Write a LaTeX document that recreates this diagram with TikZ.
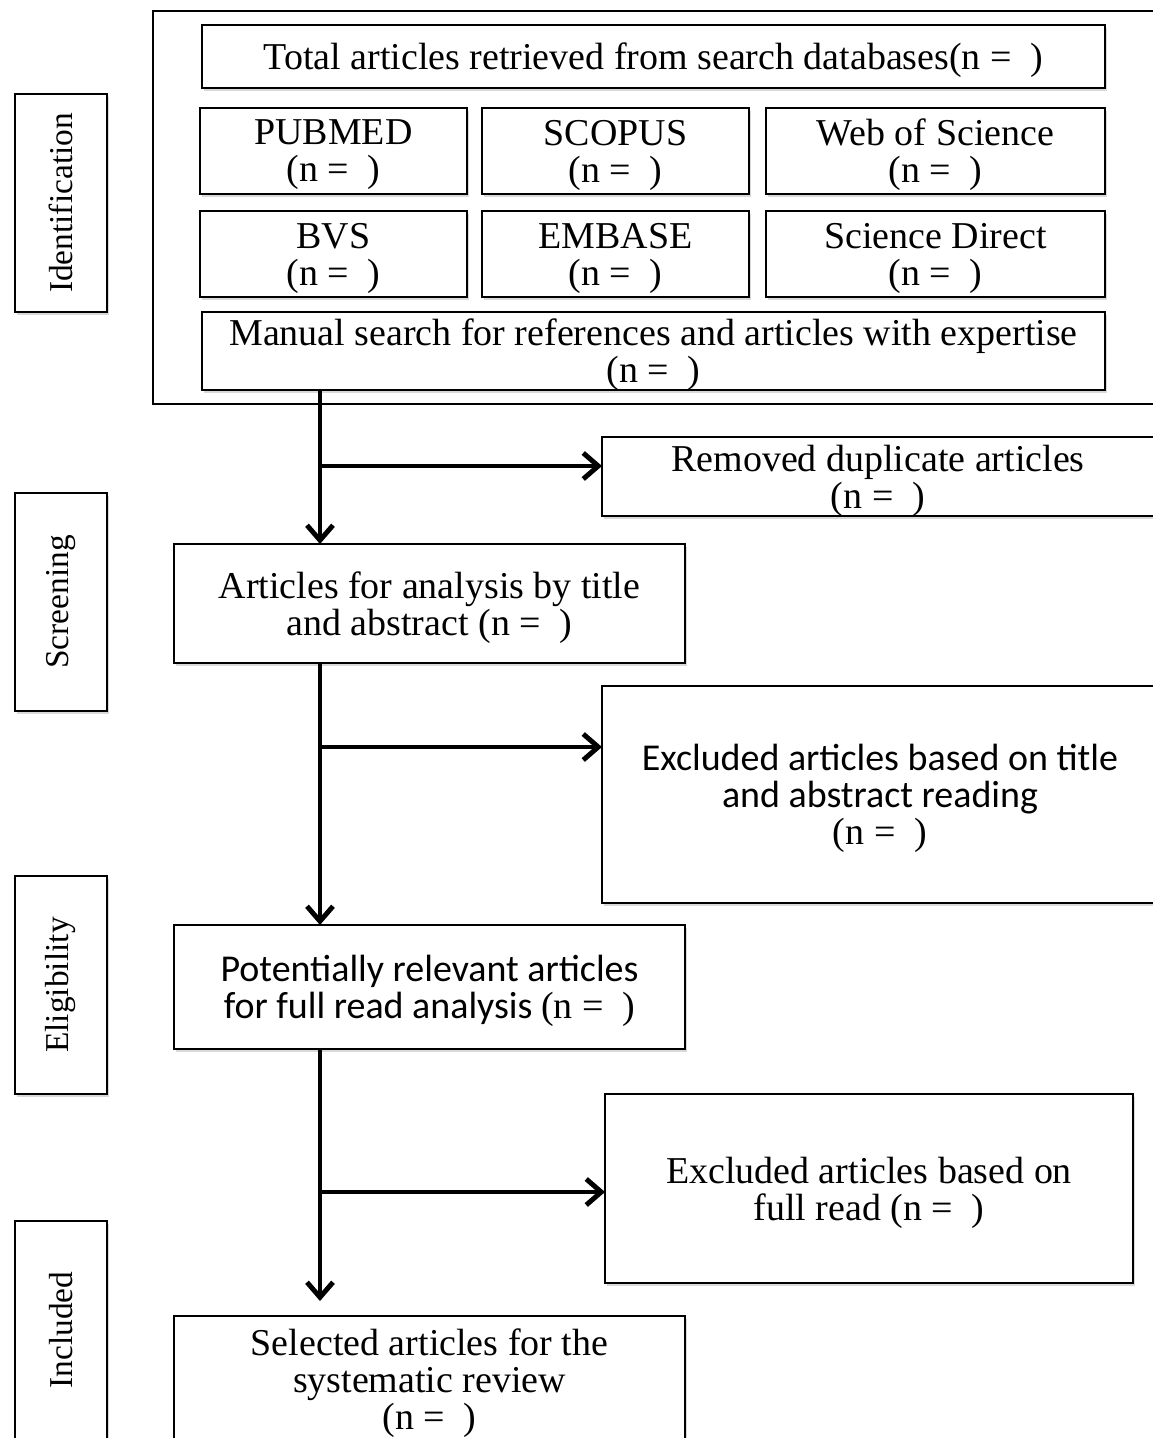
\documentclass[tikz,border=0pt]{standalone}
\usepackage{fontspec}
\setmainfont{Liberation Serif}
\newfontfamily\calibri{Carlito}
\usepackage{tikz}
\usetikzlibrary{arrows.meta, positioning, fit, calc, shadows}

\begin{document}
\begin{tikzpicture}[
    shaded/.style={rectangle, draw, fill=white, line width=0.8pt, outer sep=0pt, align=center, drop shadow={shadow xshift=0.6pt, shadow yshift=-0.9pt, opacity=0.3}},
    box/.style={shaded, inner xsep=2pt, inner ysep=0.5pt, text depth=0pt, font=\fontsize{10.8}{10.5}\selectfont},
    wide/.style={box, minimum width=9.03cm},
    source/.style={box, minimum width=2.67cm, minimum height=0.86cm},
    flowbox/.style={box, minimum width=5.11cm},
    sansbox/.style={box, font=\calibri\fontsize{10.8}{10.5}\selectfont},
    phase/.style={shaded, rotate=90, minimum width=2.18cm, minimum height=0.92cm, font=\fontsize{9.5}{10}\selectfont},
    frame/.style={rectangle, draw, line width=0.8pt},
    arrow/.style={-{Straight Barb[length=1.5mm, width=2.6mm]}, line width=1.4pt}
]
\useasboundingbox (0,0) rectangle (11.52,-14.38);

% Identification
\node[wide, minimum height=0.63cm] (total) at (6.535,-0.565) {Total articles retrieved from search databases(n =\ \ )};
\node[source, below=0.2cm of total, xshift=-3.2cm] (pubmed) {PUBMED\\(n =\ \ )};
\node[source, below=0.2cm of total, xshift=-0.38cm] (scopus) {SCOPUS\\(n =\ \ )};
\node[source, below=0.2cm of total, xshift=2.82cm, minimum width=3.39cm] (wos) {Web of Science\\(n =\ \ )};
\node[source, below=0.17cm of pubmed] (bvs) {BVS\\(n =\ \ )};
\node[source, below=0.17cm of scopus] (embase) {EMBASE\\(n =\ \ )};
\node[source, below=0.17cm of wos, minimum width=3.39cm] (direct) {Science Direct\\(n =\ \ )};
\node[wide, minimum height=0.78cm, below=0.15cm of embase, xshift=0.38cm] (manual) {Manual search for references and articles with expertise\\(n =\ \ )};
\node[frame, fit=(total)(pubmed)(manual), inner xsep=0.5cm, inner ysep=0.14cm, xshift=0.03cm] (idframe) {};

% Phases
\node[phase] (identification) at (0.61,-2.03) {Identification};
\node[phase] (screening) at (0.61,-6.02) {Screening};
\node[phase] (eligibility) at (0.61,-9.85) {Eligibility};
\node[phase] (included) at (0.61,-13.30) {Included};

% Flow
\node[flowbox, minimum height=1.19cm, below=1.54cm of manual, xshift=-2.24cm] (articles) {Articles for analysis by title\\and abstract (n =\ \ )};
\node[box, minimum width=5.52cm, minimum height=0.79cm, below=0.47cm of manual, xshift=2.245cm] (duplicates) {Removed duplicate articles\\(n =\ \ )};
\node[sansbox, minimum width=5.56cm, minimum height=2.17cm, below=0.23cm of articles, xshift=4.505cm] (titleexcl) {Excluded articles based on title\\and abstract reading\\{\rmfamily (n =\ \ )}};
\node[sansbox, minimum width=5.11cm, minimum height=1.24cm, below=2.62cm of articles] (fullread) {Potentially relevant articles\\for full read analysis {\rmfamily (n =\ \ )}};
\node[box, minimum width=5.28cm, minimum height=1.89cm, below=0.45cm of fullread, xshift=4.395cm] (readexcl) {Excluded articles based on\\full read (n =\ \ )};
\node[flowbox, minimum height=1.27cm, below=2.67cm of fullread] (selected) {Selected articles for the\\systematic review\\(n =\ \ )};

% Arrows
\coordinate (trunk) at (3.2,0);
\coordinate (split1) at (3.2,-4.66);
\coordinate (split2) at (3.2,-7.47);
\coordinate (split3) at (3.2,-11.92);

\draw[arrow] (manual.south -| trunk) -- (articles.north -| trunk);
\draw[arrow] (articles.south -| trunk) -- (fullread.north -| trunk);
\draw[arrow] (fullread.south -| trunk) -- ($(selected.north -| trunk)+(0,0.15)$);

\draw[arrow] (split1) -- (split1 -| duplicates.west);
\draw[arrow] (split2) -- (split2 -| titleexcl.west);
\draw[arrow] (split3) -- (split3 -| readexcl.west);

\end{tikzpicture}
\end{document}
